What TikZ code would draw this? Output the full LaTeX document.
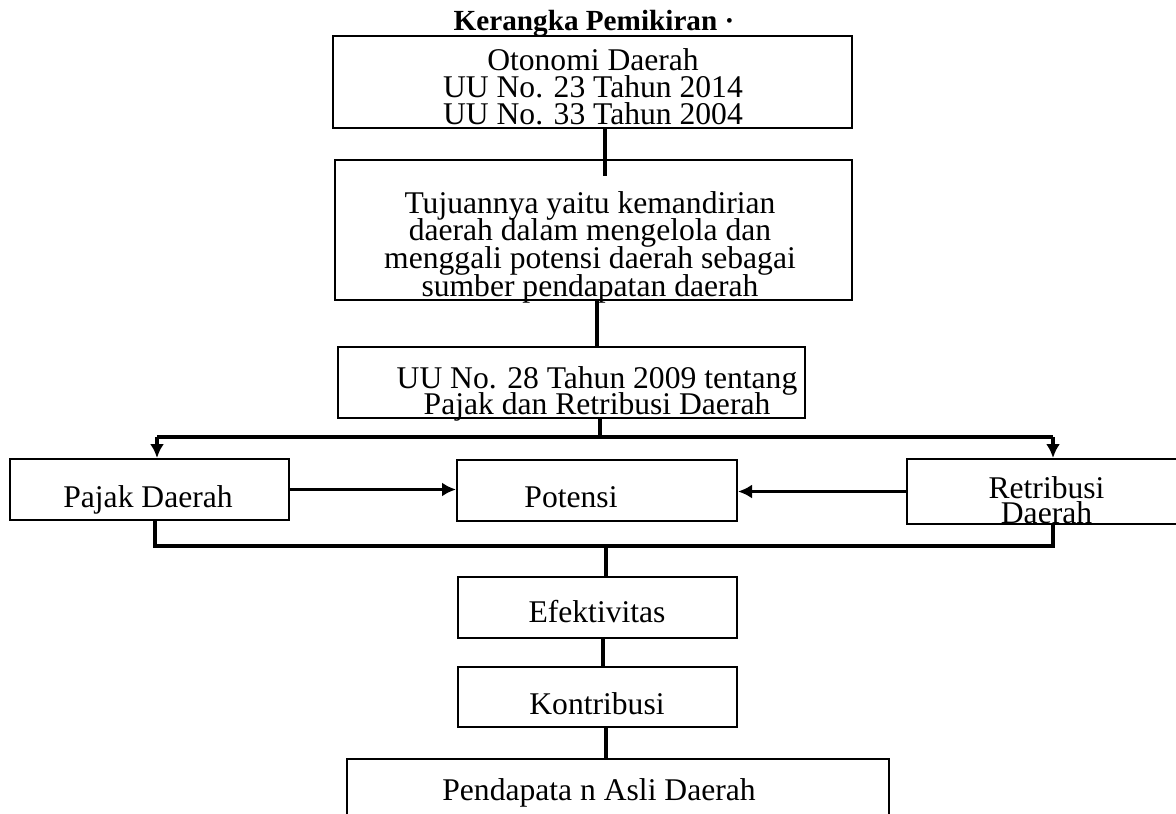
\documentclass[tikz,border=0pt]{standalone}
\usepackage{fontspec}
\setmainfont{Liberation Serif}
\usetikzlibrary{arrows.meta}
\setlength{\lineskiplimit}{-100pt}

\begin{document}
\begin{tikzpicture}[x=.5pt, y=-.5pt, >={Latex[length=7pt,width=7pt]},
  box/.style={draw,line width=1pt,inner sep=0pt},
  txt/.style={font=\fontsize{15.8}{#1}\selectfont,align=center,inner sep=0pt,anchor=base},
  txt/.default=13,
  link/.style={line width=2pt},
  flow/.style={line width=1.5pt,->}]
\useasboundingbox (0,0) rectangle (1176,813);
\node[txt,font=\fontsize{14.6}{16}\selectfont\bfseries] (title) at (594,31) {Kerangka Pemikiran ·};

% The upper chain: law, aim, tax law (text sits on its last line).
\node[box,minimum width=259.5pt,minimum height=46pt] (otonomi) at (592.5,82) {};
\node[txt=13.5] (otonomi-t) at (593,125) {Otonomi Daerah\\UU No. 23 Tahun 2014\\UU No. 33 Tahun 2004};
\node[box,minimum width=258.5pt,minimum height=70pt] (tujuan) at (593.5,230) {};
\node[txt=13.8] (tujuan-t) at (590,296) {Tujuannya yaitu kemandirian\\daerah dalam mengelola dan\\menggali potensi daerah sebagai\\sumber pendapatan daerah};
\node[box,minimum width=233.5pt,minimum height=35.5pt] (uu28) at (571.5,382.5) {};
\node[txt] (uu28-t) at (597,414) {UU No. 28 Tahun 2009 tentang\\Pajak dan Retribusi Daerah};

\node[box,minimum width=139.5pt,minimum height=30.5pt] (pajak) at (149.5,489.5) {};
\node[txt] (pajak-t) at (148,507) {Pajak Daerah};
\node[box,minimum width=140pt,minimum height=30.5pt] (potensi) at (597,490.5) {};
\node[txt] (potensi-t) at (571,507) {Potensi};
\node[box,minimum width=136.5pt,minimum height=32.5pt] (retribusi) at (1043.5,491.5) {};
\node[txt=12.5] (retribusi-t) at (1046.5,523) {Retribusi\\Daerah};

% The lower chain down to the result.
\node[box,minimum width=139.5pt,minimum height=30.5pt] (efektif) at (597.5,607.5) {};
\node[txt] (efektif-t) at (597,622) {Efektivitas};
\node[box,minimum width=139.5pt,minimum height=30pt] (kontribusi) at (597.5,697) {};
\node[txt] (kontribusi-t) at (597,714) {Kontribusi};
\node[box,minimum width=271pt,minimum height=35.5pt] (pad) at (618,794.5) {};
\node[txt] (pad-t) at (599,800) {Pendapata n Asli Daerah};

\coordinate (busL) at (157,437);
\coordinate (busM) at (600,437);
\coordinate (busR) at (1053,437);
\coordinate (sumL) at (155,546);
\coordinate (sumM) at (606,546);
\coordinate (sumR) at (1053,546);

\draw[link] ([xshift=6.25pt]otonomi.south) -- ++(0,47);
\draw[link] ([xshift=1.75pt]tujuan.south) coordinate (t) -- (t |- uu28.north);
\draw[link] (uu28.south -| busM) -- (busM);
\draw[link] (busL) -- (busR);
\draw[link,->] (busL) -- (busL |- pajak.north);
\draw[link,->] (busR) -- (busR |- retribusi.north);
\draw[flow] (pajak.east) -- (pajak.east -| potensi.west);
\draw[flow] (retribusi.west) -- (retribusi.west -| potensi.east);
\draw[link] (pajak.south -| sumL) -- (sumL) -- (sumR) -- (retribusi.south -| sumR);
\draw[link] (sumM) -- (sumM |- efektif.north);
\draw[link] ([xshift=2.75pt]efektif.south) -- ([xshift=2.75pt]kontribusi.north);
\draw[link] ([xshift=4.25pt]kontribusi.south) coordinate (k) -- (k |- pad.north);
\end{tikzpicture}
\end{document}
